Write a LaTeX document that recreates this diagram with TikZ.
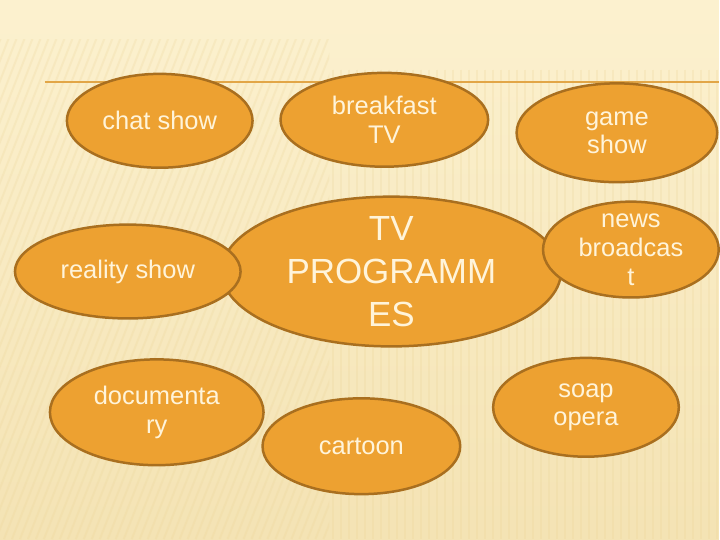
\documentclass[tikz,border=0pt]{standalone}
\usepackage{fontspec}
\setmainfont{Liberation Sans}
\usetikzlibrary{shapes.geometric}

\definecolor{paper}{HTML}{FCF1CF}
\definecolor{paperlow}{HTML}{F4E3B4}
\definecolor{stripe}{HTML}{EBD394}
\definecolor{rule}{HTML}{E2A647}
\definecolor{bubblefill}{HTML}{EDA131}
\definecolor{bubbleline}{HTML}{A96F1F}
\definecolor{bubbletext}{HTML}{FFF4DA}

\begin{document}
\begin{tikzpicture}[x=1pt,y=-1pt,
    bubble/.style={ellipse, draw=bubbleline, fill=bubblefill, line width=2.5pt, inner sep=0pt},
    word/.style={text=bubbletext, align=center, font=\fontsize{25.5}{29}\selectfont}]
        % background
        \shade[top color=paper, bottom color=paperlow] (0,0) rectangle (720,540);
        \begin{scope}
            \clip (0,40) rectangle (330,540);
            \foreach \x in {-300,-292,...,330} {
                \draw[stripe, opacity=0.22, line width=2pt] (\x,540) -- ++(200,-510);
            }
        \end{scope}
        \begin{scope}
            \clip (330,70) rectangle (720,540);
            \foreach \x in {334,342,...,720} {
                \draw[stripe, opacity=0.22, line width=2pt] (\x,70) -- (\x,540);
            }
        \end{scope}
        \draw[rule, line width=1.5pt] (45,82) -- (720,82);

        % centre first, the others lie over it
        \node[bubble, minimum width=340, minimum height=150,
              label={[word, font=\fontsize{35}{43}\selectfont]center:TV\\PROGRAMM\\ES}] (tv) at (392,272) {};
        \node[bubble, minimum width=186, minimum height=94, label={[word]center:chat show}] (chat) at (160,121) {};
        \node[bubble, minimum width=208, minimum height=94, label={[word]center:breakfast\\TV}] (breakfast) at (385,120) {};
        \node[bubble, minimum width=201, minimum height=99, label={[word]center:game\\show}] (game) at (618,133) {};
        \node[bubble, minimum width=226, minimum height=94, label={[word]center:reality show}] (reality) at (128,272) {};
        \node[bubble, minimum width=176, minimum height=96, label={[word]center:news\\broadcas\\t}] (news) at (632,250) {};
        \node[bubble, minimum width=214, minimum height=106, label={[word]center:documenta\\ry}] (docu) at (157,413) {};
        \node[bubble, minimum width=198, minimum height=96, label={[word]center:cartoon}] (cartoon) at (362,447) {};
        \node[bubble, minimum width=186, minimum height=99, label={[word]center:soap\\opera}] (soap) at (587,408) {};

        \useasboundingbox (0,0) rectangle (720,540);
    \end{tikzpicture}
\end{document}
